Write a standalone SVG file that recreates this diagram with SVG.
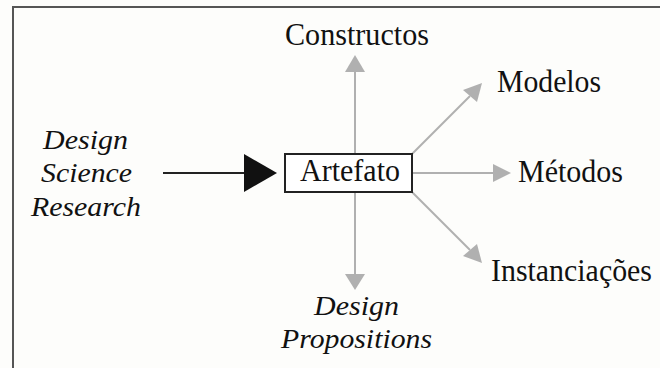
<svg xmlns="http://www.w3.org/2000/svg" width="660" height="368" viewBox="0 0 660 368">
<style>
text{font-family:"Liberation Serif","Times New Roman",serif;font-size:31px;fill:#111}
.it{font-style:italic;font-size:28px}
.g{stroke:#b0b0b0;stroke-width:2;fill:none}
.gh{fill:#b0b0b0}
</style>
<rect x="0" y="0" width="660" height="368" fill="#fdfdfb"/>
<path d="M13 380 V7 H670" fill="none" stroke="#555" stroke-width="2"/>
<g id="connectors">
<line x1="163" y1="173" x2="246" y2="173" stroke="#222" stroke-width="2"/>
<polygon points="244,154 277,173 244,192" fill="#111"/>
<line class="g" x1="355" y1="154" x2="355" y2="71"/>
<polygon class="gh" points="355,55 345,72 365,72"/>
<line class="g" x1="355" y1="192" x2="355" y2="275"/>
<polygon class="gh" points="355,290 345,274 365,274"/>
<line class="g" x1="412" y1="173" x2="495" y2="173"/>
<polygon class="gh" points="511,173 493,164 493,182"/>
<line class="g" x1="412" y1="154" x2="470" y2="96"/>
<polygon class="gh" points="482,83 463,90 477,102"/>
<line class="g" x1="412" y1="192" x2="470" y2="250"/>
<polygon class="gh" points="482,263 463,256 477,244"/>
</g>
<g id="dsr">
<text class="it" x="43" y="149" textLength="85" lengthAdjust="spacingAndGlyphs">Design</text>
<text class="it" x="41" y="182" textLength="91" lengthAdjust="spacingAndGlyphs">Science</text>
<text class="it" x="31" y="216" textLength="110" lengthAdjust="spacingAndGlyphs">Research</text>
</g>
<g id="artefato">
<rect x="285" y="154" width="127" height="38" fill="#fff" stroke="#222" stroke-width="2"/>
<text x="300" y="181" textLength="100" lengthAdjust="spacingAndGlyphs">Artefato</text>
</g>
<g id="constructos"><text x="285" y="45" textLength="144" lengthAdjust="spacingAndGlyphs">Constructos</text></g>
<g id="modelos"><text x="497" y="92" textLength="104" lengthAdjust="spacingAndGlyphs">Modelos</text></g>
<g id="metodos"><text x="518" y="182" textLength="105" lengthAdjust="spacingAndGlyphs">Métodos</text></g>
<g id="instanciacoes"><text x="491" y="281" textLength="161" lengthAdjust="spacingAndGlyphs">Instanciações</text></g>
<g id="propositions">
<text class="it" x="314" y="315" textLength="85" lengthAdjust="spacingAndGlyphs">Design</text>
<text class="it" x="281" y="348" textLength="151" lengthAdjust="spacingAndGlyphs">Propositions</text>
</g>
</svg>
